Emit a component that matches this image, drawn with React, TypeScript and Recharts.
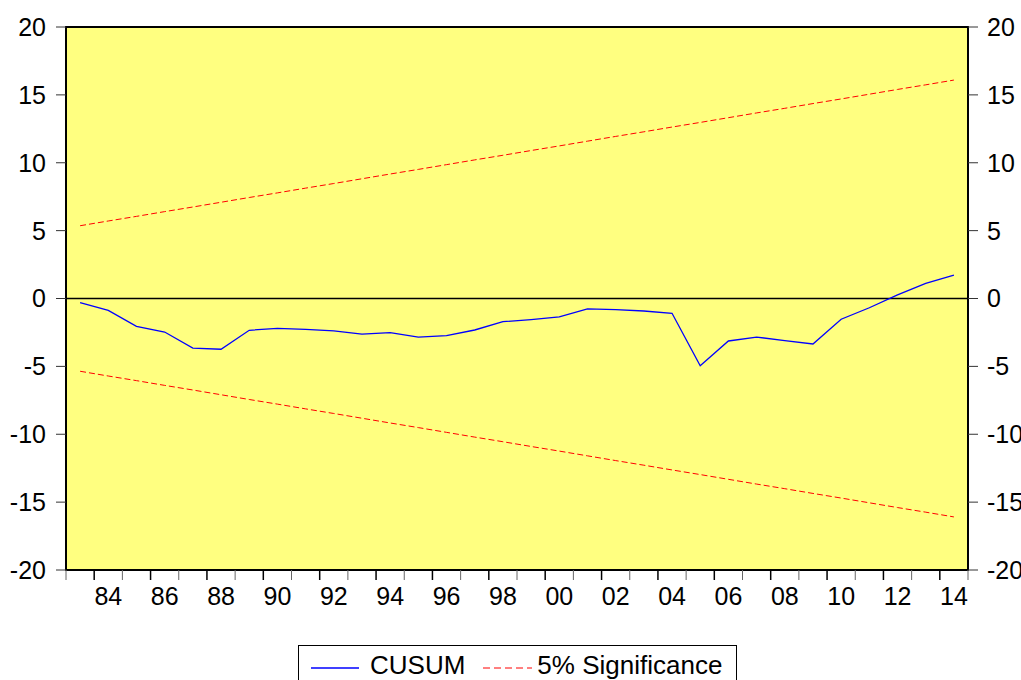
import React from "react";
import {
  CartesianGrid,
  Legend,
  Line,
  LineChart,
  ReferenceArea,
  ReferenceLine,
  XAxis,
  YAxis,
} from "recharts";

const FONT = '"Liberation Sans", Arial, sans-serif';

const years = [
  1983, 1984, 1985, 1986, 1987, 1988, 1989, 1990, 1991, 1992, 1993, 1994,
  1995, 1996, 1997, 1998, 1999, 2000, 2001, 2002, 2003, 2004, 2005, 2006,
  2007, 2008, 2009, 2010, 2011, 2012, 2013, 2014,
];

const cusum = [
  -0.31, -0.87, -2.05, -2.47, -3.65, -3.74, -2.34, -2.2, -2.27, -2.39, -2.62,
  -2.52, -2.84, -2.74, -2.32, -1.71, -1.55, -1.36, -0.77, -0.82, -0.92, -1.09,
  -4.95, -3.13, -2.84, -3.1, -3.35, -1.53, -0.68, 0.26, 1.12, 1.73,
];

const upper = [
  5.36, 5.71, 6.05, 6.4, 6.74, 7.09, 7.44, 7.78, 8.13, 8.47, 8.82, 9.17, 9.51,
  9.86, 10.21, 10.55, 10.9, 11.24, 11.59, 11.94, 12.28, 12.63, 12.97, 13.32,
  13.67, 14.01, 14.36, 14.7, 15.05, 15.4, 15.74, 16.09,
];

const lower = [
  -5.36, -5.71, -6.05, -6.4, -6.74, -7.09, -7.44, -7.78, -8.13, -8.47, -8.82,
  -9.17, -9.51, -9.86, -10.21, -10.55, -10.9, -11.24, -11.59, -11.94, -12.28,
  -12.63, -12.97, -13.32, -13.67, -14.01, -14.36, -14.7, -15.05, -15.4, -15.74,
  -16.09,
];

// year boundaries for the small tick marks
const boundaries = [
  1982.5, 1983.5, 1984.5, 1985.5, 1986.5, 1987.5, 1988.5, 1989.5, 1990.5,
  1991.5, 1992.5, 1993.5, 1994.5, 1995.5, 1996.5, 1997.5, 1998.5, 1999.5,
  2000.5, 2001.5, 2002.5, 2003.5, 2004.5, 2005.5, 2006.5, 2007.5, 2008.5,
  2009.5, 2010.5, 2011.5, 2012.5, 2013.5, 2014.5,
];

const labelYears = [
  1984, 1986, 1988, 1990, 1992, 1994, 1996, 1998, 2000, 2002, 2004, 2006,
  2008, 2010, 2012, 2014,
];
const labelText = [
  "84", "86", "88", "90", "92", "94", "96", "98", "00", "02", "04", "06",
  "08", "10", "12", "14",
];

const yTicks = [-20, -15, -10, -5, 0, 5, 10, 15, 20];

const data = years.map((year, i) => ({
  year,
  cusum: cusum[i],
  upper: upper[i],
  lower: lower[i],
}));

const tickStyle = { fontSize: 25, fill: "#000", fontFamily: FONT };

function BoundaryTick(props: any) {
  const { x, y, payload } = props;
  const major = (payload.value + 0.5) % 2 === 0;
  return (
    <line
      x1={x}
      x2={x}
      y1={y}
      y2={y + 10}
      stroke={major ? "#000" : "#666"}
      strokeWidth={major ? 1.5 : 1}
    />
  );
}

function ChartLegend() {
  return (
    <div
      style={{
        width: 439,
        height: 35,
        marginLeft: 298,
        boxSizing: "border-box",
        border: "1px solid #000",
        borderBottom: "none",
        background: "#fff",
        display: "flex",
        alignItems: "flex-start",
        paddingTop: 5,
        fontFamily: FONT,
        fontSize: 26,
        lineHeight: "28px",
        color: "#000",
        whiteSpace: "nowrap",
      }}
    >
      <svg width={48} height={28} style={{ marginLeft: 12 }}>
        <line x1={0} x2={48} y1={17} y2={17} stroke="#0000ff" strokeWidth={1.3} />
      </svg>
      <span style={{ marginLeft: 11 }}>CUSUM</span>
      <svg width={49} height={28} style={{ marginLeft: 18 }}>
        <line
          x1={0}
          x2={49}
          y1={17}
          y2={17}
          stroke="#ff0000"
          strokeWidth={1}
          strokeDasharray="7 4"
        />
      </svg>
      <span style={{ marginLeft: 5 }}>5% Significance</span>
    </div>
  );
}

export default function App() {
  return (
    <div
      style={{
        position: "absolute",
        left: 0,
        top: 0,
        width: 1021,
        height: 680,
        background: "#fff",
        fontFamily: FONT,
      }}
    >
      <LineChart
        width={1021}
        height={680}
        data={data}
        margin={{ top: 27, right: 0, bottom: 0, left: 0 }}
      >
        <CartesianGrid
          xAxisId="a"
          yAxisId="left"
          horizontal={false}
          vertical={false}
          fill="#ffff80"
          fillOpacity={1}
        />
        <XAxis
          xAxisId="a"
          dataKey="year"
          type="number"
          domain={[1982.5, 2014.5]}
          ticks={boundaries}
          interval={0}
          height={12}
          axisLine={false}
          tickLine={false}
          tickSize={0}
          tickMargin={0}
          tick={<BoundaryTick />}
        />
        <XAxis
          xAxisId="b"
          dataKey="year"
          type="number"
          domain={[1982.5, 2014.5]}
          ticks={labelYears}
          interval={0}
          height={63}
          axisLine={false}
          tickLine={false}
          tickSize={0}
          tickMargin={5}
          tick={tickStyle}
          tickFormatter={(v: number) => labelText[labelYears.indexOf(v)] ?? ""}
        />
        <YAxis
          yAxisId="left"
          domain={[-20, 20]}
          ticks={yTicks}
          interval={0}
          width={66}
          axisLine={false}
          tickSize={10}
          tickMargin={10}
          tickLine={{ stroke: "#333" }}
          tick={tickStyle}
        />
        <YAxis
          yAxisId="right"
          orientation="right"
          domain={[-20, 20]}
          ticks={yTicks}
          interval={0}
          width={53}
          axisLine={false}
          tickSize={10}
          tickMargin={9}
          tickLine={{ stroke: "#333" }}
          tick={tickStyle}
        />
        <ReferenceLine
          xAxisId="a"
          yAxisId="left"
          y={0}
          stroke="#000"
          strokeWidth={1.3}
        />
        <Line
          xAxisId="b"
          yAxisId="right"
          type="linear"
          dataKey="upper"
          stroke="#ff0000"
          strokeWidth={1}
          strokeDasharray="6 3"
          dot={false}
          isAnimationActive={false}
        />
        <Line
          xAxisId="a"
          yAxisId="left"
          type="linear"
          dataKey="lower"
          stroke="#ff0000"
          strokeWidth={1}
          strokeDasharray="6 3"
          dot={false}
          isAnimationActive={false}
        />
        <Line
          xAxisId="a"
          yAxisId="left"
          type="linear"
          dataKey="cusum"
          stroke="#0000ff"
          strokeWidth={1.3}
          dot={false}
          isAnimationActive={false}
        />
        <ReferenceArea
          xAxisId="a"
          yAxisId="left"
          x1={1982.5}
          x2={2014.5}
          y1={-20}
          y2={20}
          fill="none"
          stroke="#000"
          strokeWidth={2}
        />
        <Legend verticalAlign="bottom" content={() => <ChartLegend />} />
      </LineChart>
    </div>
  );
}
